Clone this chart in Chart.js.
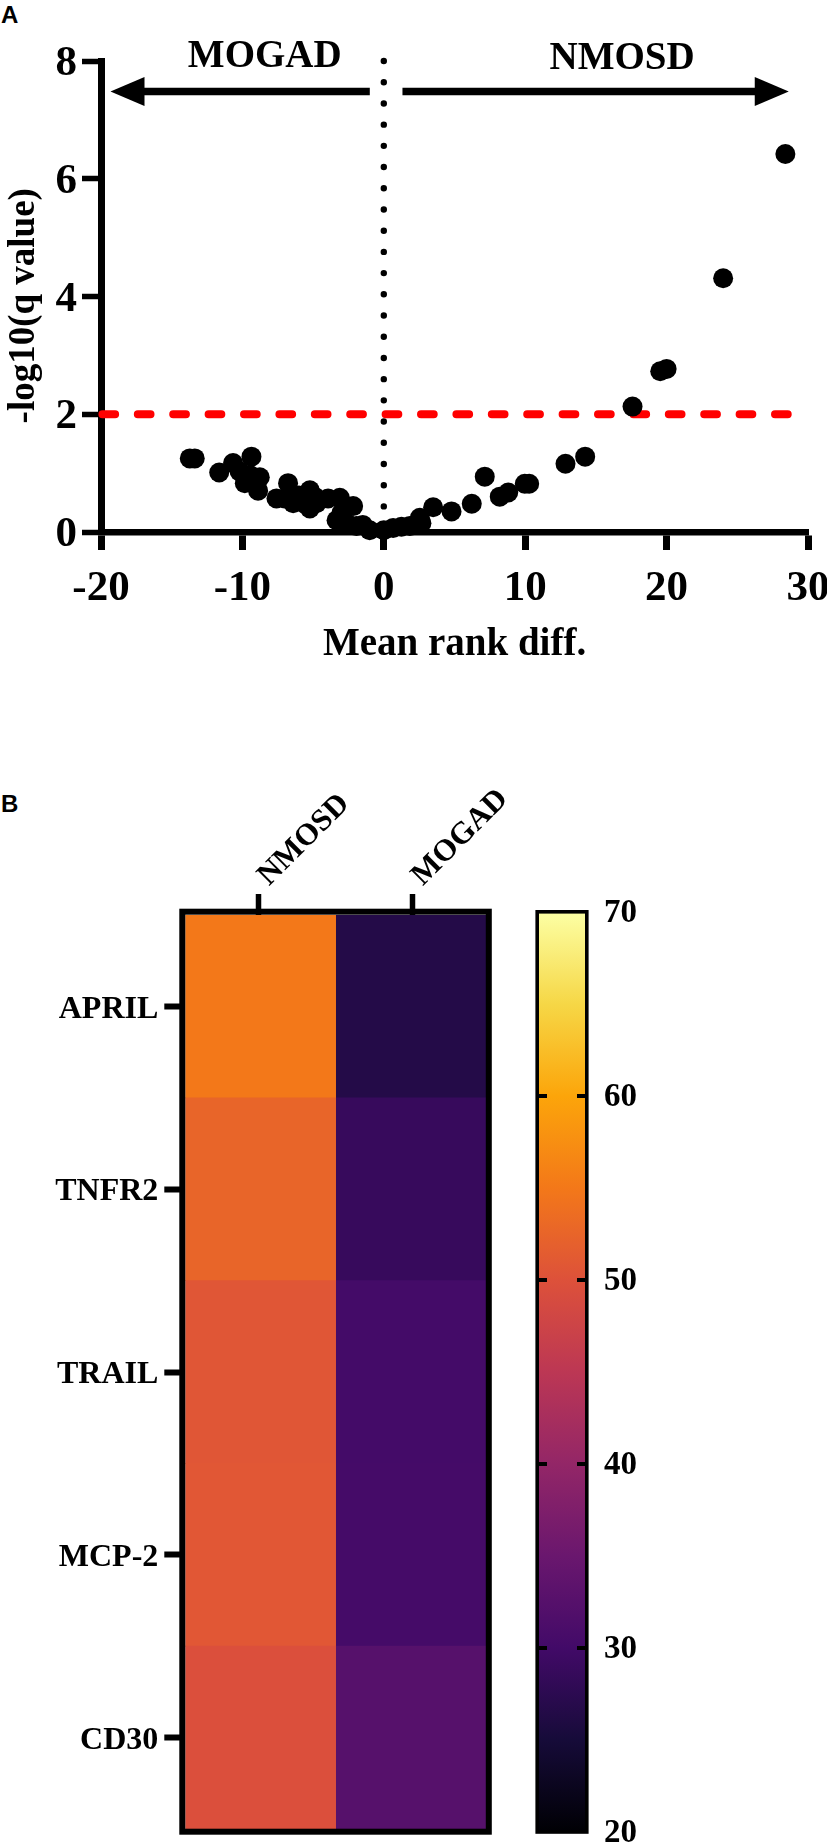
<!DOCTYPE html>
<html><head><meta charset="utf-8">
<style>
html,body{margin:0;padding:0;background:#fff;width:827px;height:1842px;overflow:hidden;position:relative}
canvas{position:absolute;display:block}
.tag{position:absolute;left:1px;font:bold 24px "Liberation Sans",sans-serif;color:#000;line-height:24px}
</style>
<script src="https://cdn.jsdelivr.net/npm/chart.js@4/dist/chart.umd.js"></script>
</head><body>
<div class="tag" style="top:3px">A</div>
<div class="tag" style="top:792px">B</div>
<canvas id="a" width="827" height="680" style="left:0;top:0"></canvas>
<canvas id="b" width="620" height="1072" style="left:0;top:770px"></canvas>
<canvas id="c" width="327" height="1072" style="left:500px;top:770px"></canvas>
<script>
// ---------- Panel A data ----------
const rankDiff = [-13.72,-13.37,-11.64,-10.66,-10.2,-9.36,-9.5,-9,-8.77,-9.83,-8.89,-9.48,-7.59,-7,-6.77,-6.41,-6,-5.82,-5.6,-5.23,-5.23,-4.9,-4.76,-3.94,-3.11,-3,-2.17,-3.34,-2.64,-1.93,-1.49,-1,0,0.66,1.25,1.84,2.55,2.66,3.49,4.79,6.22,7.14,8.2,8.8,9.97,10.28,12.85,14.24,17.59,19.55,20,24,28.4];
const qValue   = [1.25,1.25,1.01,1.17,1.03,1.28,0.9,0.78,0.93,0.83,0.7,0.97,0.57,0.57,0.83,0.49,0.62,0.54,0.48,0.71,0.4,0.6,0.49,0.57,0.58,0.32,0.44,0.2,0.15,0.1,0.12,0.03,0.03,0.07,0.09,0.1,0.24,0.15,0.42,0.35,0.48,0.94,0.6,0.67,0.82,0.82,1.16,1.28,2.13,2.73,2.77,4.31,6.42];
const thresholdX = [-19.9,28.6];
const thresholdY = [2,2];
const zeroLineX = [0,0];
const zeroLineY = [8,0.4];
const arrowLevel = 7.48;
const leftArrow = [-0.99,-19.33];
const rightArrow = [1.32,28.64];
const groupLabels = ["MOGAD","NMOSD"];
const groupLabelX = [-8.42,16.85];
const groupLabelY = [7.89,7.87];
// ---------- Panel B data ----------
const rows = ["APRIL","TNFR2","TRAIL","MCP-2","CD30"];
const columns = ["NMOSD","MOGAD"];
const nmosdHeat = [55,52.6,50.6,50.8,49.7];
const mogadHeat = [26.6,28.7,30.2,30.4,32.5];
const columnTicks = [0.487,1.51];
const cellSpan = [1,1,1,1,1];
const barRange = [[20,70]];
const inferno = ["#000004","#160b39","#420a68","#6a176e","#932667","#bc3754","#dd513a","#f37819","#fca50a","#f6d746","#fcffa4"];

function heatColor(v){
  const t=Math.max(0,Math.min(1,(v-20)/50))*(inferno.length-1);
  const i=Math.min(inferno.length-2,Math.floor(t)),f=t-i;
  const p=h=>[1,3,5].map(k=>parseInt(h.substr(k,2),16));
  const a=p(inferno[i]),b=p(inferno[i+1]);
  return `rgb(${a.map((x,k)=>Math.round(x+(b[k]-x)*f)).join(",")})`;
}
const SERIF='"Liberation Serif","Times New Roman",serif';
const font=(s)=>({family:SERIF,size:s,weight:'bold'});
Chart.defaults.animation=false;
Chart.defaults.responsive=false;
Chart.defaults.devicePixelRatio=1;
Chart.defaults.color='#000';

// ---------- Panel A ----------
const arrowPlugin={id:'arrows',afterDatasetsDraw(ch){
  const {ctx,scales:{x,y}}=ch;ctx.save();
  ctx.fillStyle=ctx.strokeStyle='#000';
  const yy=y.getPixelForValue(arrowLevel);
  [leftArrow,rightArrow].forEach(([from,to])=>{
    const a=x.getPixelForValue(from),b=x.getPixelForValue(to),d=Math.sign(b-a);
    ctx.lineWidth=7.5;ctx.beginPath();ctx.moveTo(a,yy);ctx.lineTo(b-d*30,yy);ctx.stroke();
    ctx.beginPath();ctx.moveTo(b,yy);ctx.lineTo(b-d*34,yy-14.5);ctx.lineTo(b-d*34,yy+14.5);ctx.closePath();ctx.fill();
  });
  ctx.font=`bold 39px ${SERIF}`;ctx.textAlign='center';ctx.textBaseline='alphabetic';
  groupLabels.forEach((t,i)=>ctx.fillText(t,x.getPixelForValue(groupLabelX[i]),y.getPixelForValue(groupLabelY[i])));
  ctx.restore();
}};
new Chart(document.getElementById('a'),{
  type:'scatter',
  data:{datasets:[
    {label:'Proteins',data:rankDiff.map((v,i)=>({x:v,y:qValue[i]})),backgroundColor:'#000',borderColor:'#000',pointRadius:10,pointBorderWidth:0,clip:false,order:1},
    {label:'q threshold',data:thresholdX.map((v,i)=>({x:v,y:thresholdY[i]})),showLine:true,borderColor:'#ff0000',borderWidth:8,borderDash:[12.7,22.7],borderCapStyle:'round',pointRadius:0,clip:false,order:2},
    {label:'Zero',data:zeroLineX.map((v,i)=>({x:v,y:zeroLineY[i]})),showLine:true,borderColor:'#000',borderWidth:6.4,borderDash:[0.01,21.2],borderCapStyle:'round',pointRadius:0,clip:false,order:3}
  ]},
  options:{
    layout:{padding:{left:0,right:19,top:61,bottom:0}},
    plugins:{legend:{display:false},tooltip:{enabled:false}},
    scales:{
      x:{type:'linear',min:-20,max:30,
        border:{color:'#000',width:6.5},
        grid:{drawOnChartArea:false,drawTicks:true,tickLength:18,tickWidth:7,tickColor:'#000'},
        ticks:{stepSize:10,font:font(43),padding:13,maxRotation:0,autoSkip:false,color:'#000'},
        title:{display:true,text:'Mean rank diff.',font:font(39),color:'#000',padding:{top:0,bottom:12}},
        afterFit(s){s.height=148;s.paddingLeft=0;s.paddingRight=0;}
      },
      y:{type:'linear',min:0,max:8,
        border:{color:'#000',width:7},
        grid:{drawOnChartArea:false,drawTicks:true,tickLength:19,tickWidth:5.5,tickColor:'#000'},
        ticks:{stepSize:2,font:font(43),padding:5,labelOffset:3,color:'#000'},
        title:{display:true,text:'-log10(q value)  ',font:font(37),color:'#000',padding:{top:2,bottom:0}},
        afterFit(s){s.width=101;s.paddingTop=0;s.paddingBottom=0;}
      }
    }
  },
  plugins:[arrowPlugin]
});

// ---------- Panel B heatmap ----------
const framePlugin={id:'frame',afterDraw(ch){
  const {ctx,chartArea:c}=ch;ctx.save();ctx.strokeStyle='#000';ctx.lineWidth=6;
  ctx.strokeRect(c.left-3,c.top-3.3,c.width+5.8,c.height+6);ctx.restore();
}};
new Chart(document.getElementById('b'),{
  type:'bar',
  data:{labels:rows,datasets:[
    {label:columns[0],data:cellSpan,backgroundColor:nmosdHeat.map(heatColor),borderWidth:0,barPercentage:1,categoryPercentage:1},
    {label:columns[1],data:cellSpan,backgroundColor:mogadHeat.map(heatColor),borderWidth:0,barPercentage:1,categoryPercentage:1}
  ]},
  options:{
    indexAxis:'y',
    layout:{padding:{left:0,right:134,top:0,bottom:13}},
    plugins:{legend:{display:false},tooltip:{enabled:false}},
    scales:{
      x:{type:'linear',position:'top',stacked:true,min:0,max:2,
        border:{display:false},
        grid:{drawOnChartArea:false,drawTicks:true,tickLength:21,tickWidth:5.5,tickColor:'#000'},
        afterBuildTicks(s){s.ticks=columnTicks.map(v=>({value:v}));},
        ticks:{font:font(31),padding:0,minRotation:45,maxRotation:45,labelOffset:31,autoSkip:false,color:'#000',
          callback:(v,i)=>columns[i]},
        afterFit(s){s.height=145;s.paddingLeft=0;s.paddingRight=0;}
      },
      y:{type:'category',stacked:true,offset:true,
        border:{display:false},
        grid:{offset:false,drawOnChartArea:false,drawTicks:true,tickLength:21,tickWidth:6,tickColor:'#000'},
        ticks:{font:font(32),padding:6,labelOffset:3,autoSkip:false,color:'#000'},
        afterFit(s){s.width=185.3;s.paddingTop=0;s.paddingBottom=0;}
      }
    }
  },
  plugins:[framePlugin]
});

// ---------- Panel B colour bar ----------
const barPlugin={id:'barFrame',afterDraw(ch){
  const {ctx,chartArea:c,scales:{y}}=ch;ctx.save();ctx.strokeStyle='#000';ctx.fillStyle='#000';
  ctx.lineWidth=3.6;ctx.strokeRect(c.left-1.8,c.top-0.2,c.width+3.6,c.height+0.2);
  y.ticks.forEach(t=>{
    const v=t.value;if(v===y.min||v===y.max)return;
    const p=y.getPixelForValue(v);
    ctx.fillRect(c.left,p-2,8,4);ctx.fillRect(c.right-8,p-2,8,4);
  });
  ctx.restore();
}};
new Chart(document.getElementById('c'),{
  type:'bar',
  data:{labels:['scale'],datasets:[{data:barRange,borderWidth:0,barPercentage:1,categoryPercentage:1,
    backgroundColor(ctx){
      const ch=ctx.chart,a=ch.chartArea;if(!a)return '#000';
      const g=ch.ctx.createLinearGradient(0,a.bottom,0,a.top);
      inferno.forEach((c,i)=>g.addColorStop(i/(inferno.length-1),c));
      return g;
    }}]},
  options:{
    layout:{padding:{left:39,right:0,top:142,bottom:10}},
    plugins:{legend:{display:false},tooltip:{enabled:false}},
    scales:{
      x:{display:false,afterFit(s){s.height=0;}},
      y:{position:'right',min:20,max:70,
        border:{display:false},
        grid:{drawOnChartArea:false,drawTicks:false},
        ticks:{stepSize:10,font:font(33),padding:19,labelOffset:1,color:'#000'},
        afterFit(s){s.width=242;s.paddingTop=0;s.paddingBottom=0;}
      }
    }
  },
  plugins:[barPlugin]
});
</script>
</body></html>
